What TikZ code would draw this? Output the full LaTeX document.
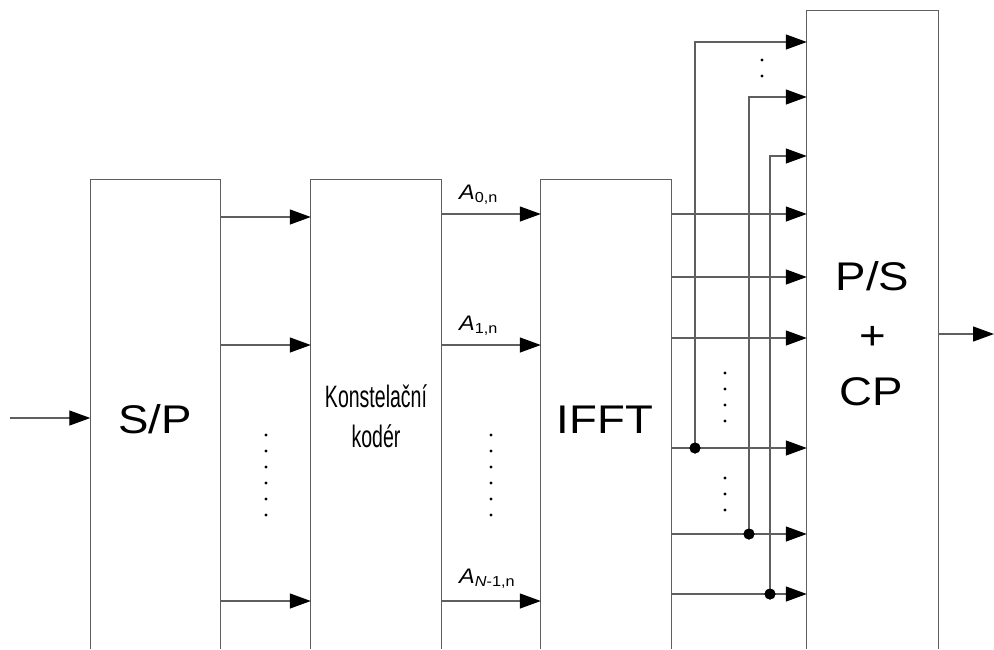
\documentclass[tikz,border=0pt]{standalone}
\usepackage{fontspec}
\setmainfont{Liberation Sans}
\newfontfamily\narrowfont[FakeStretch=0.63]{Liberation Sans}
\newfontfamily\bigfont[FakeStretch=1.14]{Liberation Sans}
\newfontfamily\widefont[FakeStretch=1.12]{Liberation Sans}
\usetikzlibrary{arrows.meta}
\definecolor{linegray}{RGB}{95,95,95}
\tikzset{
  boxline/.style={draw=linegray, line width=1.2pt},
  blockarea/.style={inner sep=0pt, minimum width=130pt},
  arr/.style={draw=linegray, line width=1.2pt, -{Triangle[length=21pt,width=15pt,color=black]}},
  bigtext/.style={inner sep=0pt, anchor=base, font=\bigfont\fontsize{40}{40}\selectfont},
  narrowtext/.style={inner sep=0pt, anchor=base, font=\narrowfont\fontsize{31}{31}\selectfont},
  alabel/.style={inner sep=0pt, anchor=base west, font=\widefont},
  junction/.style={fill=black, circle, inner sep=0pt, minimum size=11pt},
  smalldot/.style={fill=black, circle, inner sep=0pt, minimum size=3.4pt}
}
\newcommand{\Alab}[1]{{\fontsize{21}{21}\selectfont\textit{A}}\raisebox{-3pt}{\fontsize{14.5}{14.5}\selectfont #1}}
\begin{document}
\begin{tikzpicture}[x=1pt, y=-1pt]
\useasboundingbox (0,0) rectangle (994,649);
% block areas (open at bottom)
\node[blockarea, minimum height=469pt] (sp) at (155.5,414.5) {};
\node[blockarea, minimum height=469pt] (ks) at (376,414.5) {};
\node[blockarea, minimum height=469pt] (ifft) at (606,414.5) {};
\node[blockarea, minimum width=131pt, minimum height=638pt] (ps) at (872.5,330) {};
\foreach \b in {sp,ks,ifft,ps}{
  \draw[boxline] (\b.south west) |- (\b.north east) -- (\b.south east);
}
% labels
\node[bigtext] (splab) at (155,433) {S/P};
\node[narrowtext] (kslab1) at (376,407) {Konstelační};
\node[narrowtext] (kslab2) at (376,447) {kodér};
\node[bigtext] (ifftlab) at (605,433) {IFFT};
\node[bigtext] (pslab1) at (872.5,290) {P/S};
\node[bigtext] (pslab2) at (872.5,349) {+};
\node[bigtext] (pslab3) at (871.5,405) {CP};
% input / output
\coordinate (in) at (10,418);
\coordinate (out) at (994,334);
\draw[arr] (in) -- (sp.west |- in);
\draw[arr] (ps.east |- out) -- (out);
% S/P -> constellation coder
\foreach \yy in {217,345,601}{
  \draw[arr] (sp.east |- 0,\yy) -- (ks.west |- 0,\yy);
}
% coder -> IFFT
\foreach \yy in {214,345,601}{
  \draw[arr] (ks.east |- 0,\yy) -- (ifft.west |- 0,\yy);
}
\node[alabel] (a0) at (459,199) {\Alab{0,n}};
\node[alabel] (a1) at (459,330) {\Alab{1,n}};
\node[alabel] (an) at (459,583) {\Alab{\textit{N}-1,n}};
% vertical dots
\foreach \yy in {435,451,467,483,499,515}{
  \node[smalldot] at (266,\yy) {};
  \node[smalldot] at (491,\yy) {};
}
% IFFT -> P/S
\foreach \yy in {214,277,338,448,534,594}{
  \draw[arr] (ifft.east |- 0,\yy) -- (ps.west |- 0,\yy);
}
% cyclic prefix copies
\node[junction] (j1) at (695,448) {};
\node[junction] (j2) at (749,534) {};
\node[junction] (j3) at (770,594) {};
\draw[arr] (j1.center) |- (ps.west |- 0,42);
\draw[arr] (j2.center) |- (ps.west |- 0,97);
\draw[arr] (j3.center) |- (ps.west |- 0,156);
\node[junction] at (695,448) {};
\node[junction] at (749,534) {};
\node[junction] at (770,594) {};
% dots between P/S inputs
\foreach \yy in {60,76}{ \node[smalldot] at (762,\yy) {}; }
\foreach \yy in {373,389,405,421}{ \node[smalldot] at (725,\yy) {}; }
\foreach \yy in {478,494,510}{ \node[smalldot] at (725,\yy) {}; }
\end{tikzpicture}
\end{document}
